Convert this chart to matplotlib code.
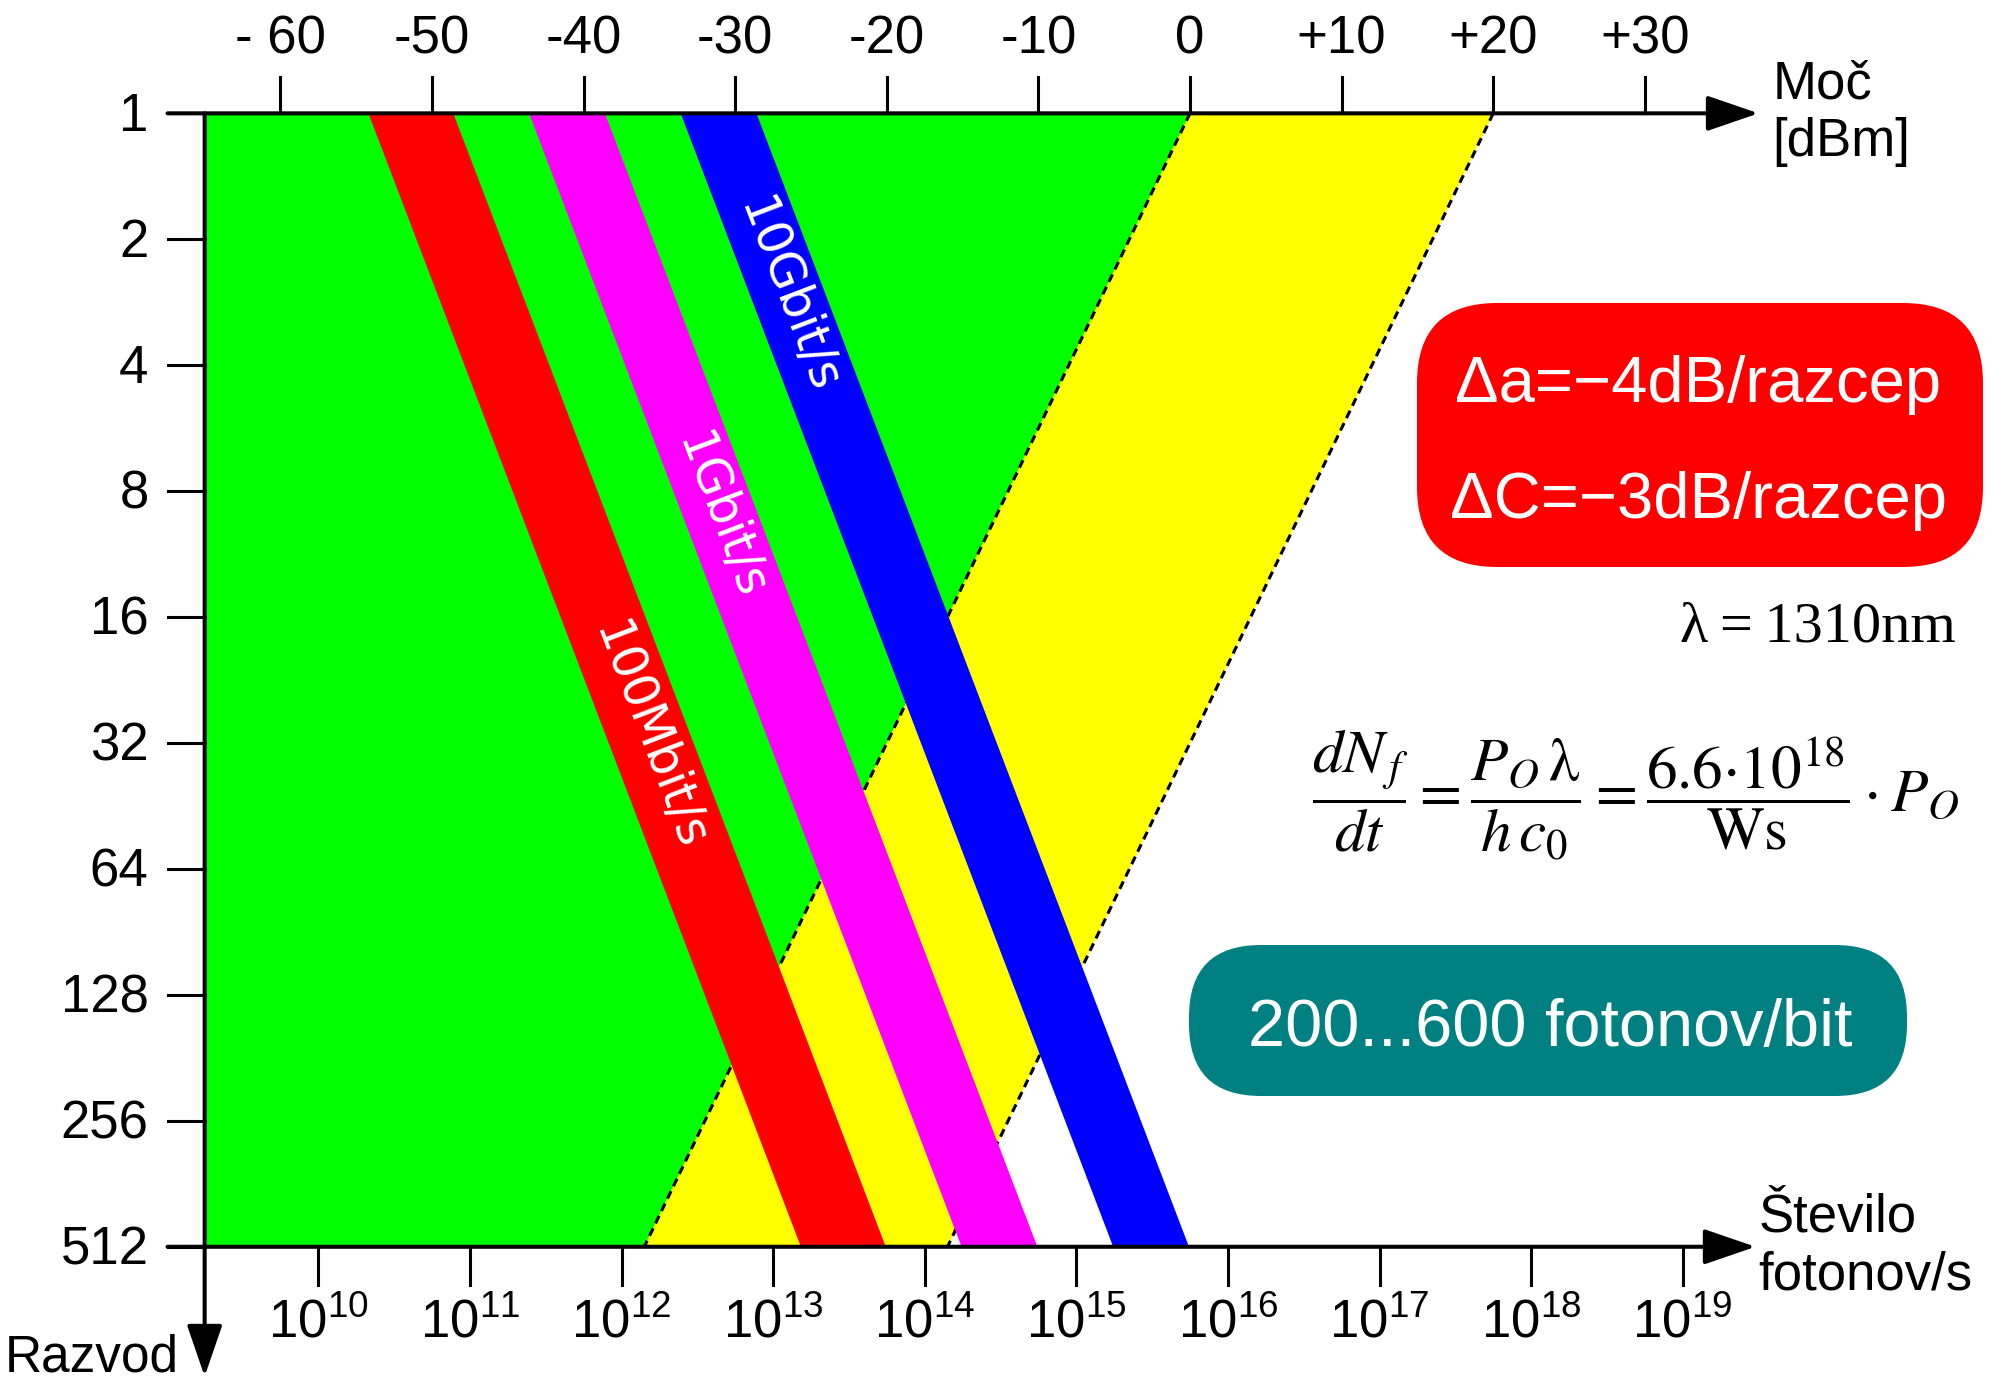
import matplotlib.pyplot as plt
import numpy as np
from matplotlib.patches import Polygon, FancyBboxPatch

plt.rcParams['font.family'] = ['Liberation Sans', 'DejaVu Sans']
plt.rcParams['mathtext.fontset'] = 'custom'
plt.rcParams['mathtext.rm'] = 'Liberation Sans'
plt.rcParams['mathtext.it'] = 'Liberation Sans:italic'

# razvod (split ratio), vertical axis
razvod = [1, 2, 4, 8, 16, 32, 64, 128, 256, 512]
# transmitter power axis [dBm]
moc = [-60, -50, -40, -30, -20, -10, 0, 10, 20, 30]
moc_txt = ['- 60', '-50', '-40', '-30', '-20', '-10', '0', '+10', '+20', '+30']
# photon rate axis: decades and log10(photons/s) at 0 dBm
foton_exp = [10, 11, 12, 13, 14, 15, 16, 17, 18, 19]
foton_0dbm = 15.75

# available transmitter power and splitter loss
moc_od, moc_do = 0, 20      # dBm
izguba = 4.0                # dB / razcep

# bit-rate bands (200...600 fotonov/bit) at razvod 1, shift per split
pas_ime = ['100Mbit/s', '1Gbit/s', '10Gbit/s']
pas_levo = [-54.2, -43.6, -33.6]
pas_desno = [-48.6, -38.6, -28.6]
pas_barva = ['#ff0000', '#ff00ff', '#0000ff']
pas_premik = 3.17           # dB / razcep
napis_nivo = [4.95, 3.2, 1.45]

W, H = 1995, 1379
fig = plt.figure(figsize=(W / 100, H / 100), dpi=100)
ax = fig.add_axes([0, 0, 1, 1])
ax.set_yscale('log', base=2)
ax.set_xlim(-78.5, 53.1)
ax.set_ylim(2 ** 10.05, 2 ** -0.9)
ax.axis('off')

def fx(px):
    return px / W

def fy(py):
    return 1 - py / H

x_os = -65.0       # left axis
x_zac = -67.45     # start of tick stubs
top, bot = razvod[0], razvod[-1]
n = np.log2(bot)
dol = izguba * n

# green: below available power, yellow: available power window
ax.add_patch(Polygon([(x_os, top), (moc_od, top), (moc_od - dol, bot), (x_os, bot)],
                     closed=True, fc='#00ff00', ec='none', zorder=1))
ax.add_patch(Polygon([(moc_od, top), (moc_do, top), (moc_do - dol, bot), (moc_od - dol, bot)],
                     closed=True, fc='#ffff00', ec='none', zorder=1))
for m in (moc_od, moc_do):
    ax.plot([m, m - dol], [top, bot], color='k', lw=2.2, ls=(0, (2.7, 1.8)), zorder=2)

sh = pas_premik * n
p0 = ax.transData.transform((0, top))
p1 = ax.transData.transform((sh, bot))
kot = np.degrees(np.arctan2(p1[1] - p0[1], p1[0] - p0[0]))
for ime, l, d, c, lv in zip(pas_ime, pas_levo, pas_desno, pas_barva, napis_nivo):
    ax.add_patch(Polygon([(l, top), (d, top), (d + sh, bot), (l + sh, bot)],
                         closed=True, fc=c, ec='none', zorder=3))
    xc = (l + d) / 2 + pas_premik * lv
    ax.text(xc, 2 ** lv, ime, color='white', fontsize=35, family='DejaVu Sans',
            rotation=kot, rotation_mode='anchor', ha='center', va='center', zorder=4)

# axes with arrows
puscica = dict(arrowstyle='-|>,head_length=1.6,head_width=0.55', mutation_scale=20,
               lw=2.9, color='k', shrinkA=0, shrinkB=0)
ax.annotate('', xy=(37.5, top), xytext=(x_zac, top), arrowprops=puscica, zorder=5)
ax.annotate('', xy=(37.3, bot), xytext=(x_zac, bot), arrowprops=puscica, zorder=5)
ax.annotate('', xy=(x_os, 2 ** 10.03), xytext=(x_os, top), arrowprops=puscica, zorder=5)

for r in razvod:
    ax.plot([x_zac, x_os], [r, r], color='k', lw=2.2, zorder=5)
    ax.text(-68.7, r * 2 ** 0.14, str(r), ha='right', va='baseline', fontsize=38)

for m, t in zip(moc, moc_txt):
    ax.plot([m, m], [top, top * 2 ** -0.29], color='k', lw=2.2, zorder=5)
    ax.text(m, top * 2 ** -0.476, t, ha='center', va='baseline', fontsize=38)

for e in foton_exp:
    xe = 10 * (e - foton_0dbm)
    ax.plot([xe, xe], [bot, bot * 2 ** 0.30], color='k', lw=2.2, zorder=5)
    ax.text(xe, bot * 2 ** 0.72, r'$10^{%d}$' % e, ha='center', va='baseline', fontsize=38)

ax.text(38.4, top, 'Moč\n[dBm]', ha='left', va='center', fontsize=38)
ax.text(37.5, bot, 'Število\nfotonov/s', ha='left', va='center', fontsize=38)
ax.text(-66.7, bot * 2 ** 0.99, 'Razvod', ha='right', va='baseline', fontsize=37)

# info boxes
fig.add_artist(FancyBboxPatch((14.17, 8.12), 5.66, 2.64, boxstyle='round,pad=0,rounding_size=0.8',
                              fc='#ff0000', ec='none', transform=fig.dpi_scale_trans))
fig.text(fx(1698), fy(402), 'Δa=−4dB/razcep', color='white', fontsize=47, ha='center', va='baseline')
fig.text(fx(1698), fy(518), 'ΔC=−3dB/razcep', color='white', fontsize=47, ha='center', va='baseline')

fig.add_artist(FancyBboxPatch((11.89, 2.83), 7.18, 1.51, boxstyle='round,pad=0,rounding_size=0.72',
                              fc='#008080', ec='none', transform=fig.dpi_scale_trans))
fig.text(fx(1550), fy(1046), '200...600 fotonov/bit', color='white', fontsize=48,
         ha='center', va='baseline')

fig.text(fx(1956), fy(642), 'λ\u2009=\u20091310nm', family=['Liberation Serif', 'DejaVu Serif'],
         fontsize=42, ha='right', va='baseline')
fig.text(fx(1960), fy(795),
         r'$\dfrac{dN_{\,f}}{dt}=\dfrac{P_O\,\mathrm{\lambda}}{h\,c_0}'
         r'=\dfrac{6.6{\cdot}10^{18}}{\mathrm{Ws}}\cdot P_O$',
         math_fontfamily='stix', fontsize=44, ha='right', va='center')

fig.savefig('out.png', dpi=100)
